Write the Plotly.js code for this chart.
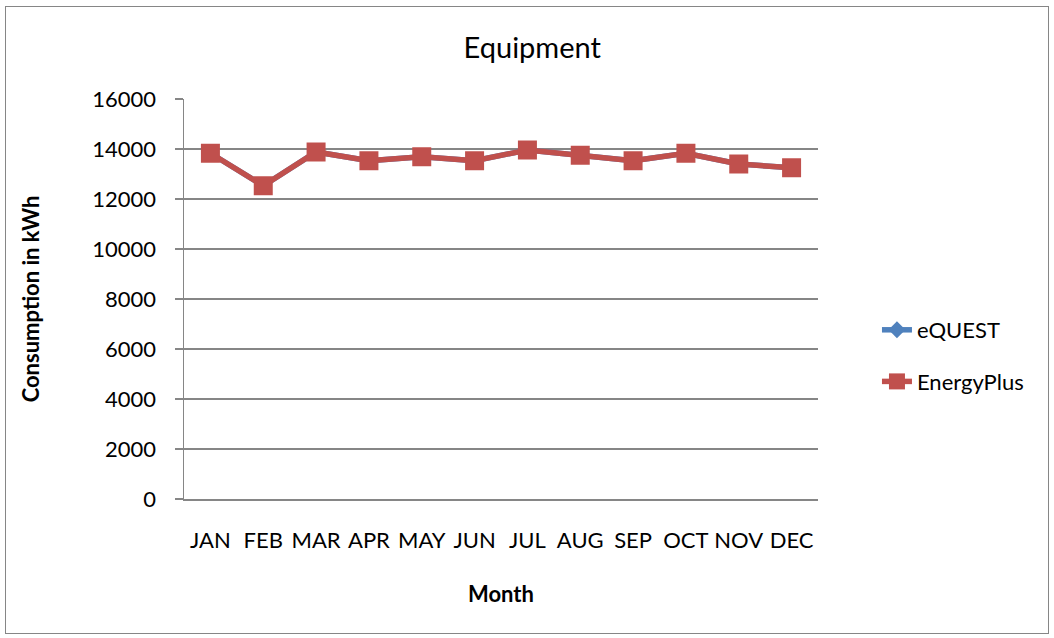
<!DOCTYPE html>
<html><head><meta charset="utf-8">
<script src="https://cdn.plot.ly/plotly-3.0.1.min.js"></script>
<style>
html,body{margin:0;padding:0;background:#fff;}
#chart{width:1054px;height:638px;position:relative;}
#frame{position:absolute;left:5px;top:6px;width:1042px;height:626px;border:1px solid #868686;pointer-events:none;}
</style></head>
<body>
<div id="chart"></div>
<div id="frame"></div>
<script>
const months = ["JAN","FEB","MAR","APR","MAY","JUN","JUL","AUG","SEP","OCT","NOV","DEC"];
const equest = [13830,12530,13880,13530,13690,13530,13960,13750,13530,13830,13400,13250];
const energyplus = [13830,12530,13880,13530,13690,13530,13960,13750,13530,13830,13400,13250];
const yTicks = [0,2000,4000,6000,8000,10000,12000,14000,16000];

const font = "Lato, 'Open Sans', sans-serif";
const traces = [
  {x: months, y: equest, name: "eQUEST", legendgroup: "a", type: "scatter", mode: "lines+markers",
   line: {color: "#4F81BD", width: 5.5}, marker: {symbol: "diamond", size: 13, color: "#4F81BD"}},
  {x: months, y: energyplus, name: "EnergyPlus", legendgroup: "b", type: "scatter", mode: "lines+markers",
   line: {color: "#C0504D", width: 5.5}, marker: {symbol: "square", size: 19, color: "#C0504D"}}
];
const layout = {
  width: 1054, height: 638,
  margin: {l: 184, r: 236, t: 99, b: 139},
  paper_bgcolor: "#fff", plot_bgcolor: "#fff",
  font: {family: font, size: 22, color: "#000"},
  title: {text: "Equipment", font: {family: font, size: 29, color: "#000"}, x: 0.505, xanchor: "center", y: 0.925, yanchor: "middle"},
  showlegend: true,
  legend: {x: 1.093, y: 0.3575, xanchor: "left", yanchor: "middle", font: {family: font, size: 22}, tracegroupgap: 20, itemwidth: 30, bgcolor: "rgba(0,0,0,0)"},
  xaxis: {
    type: "category", categoryorder: "array", categoryarray: months,
    showgrid: false, zeroline: false, showline: true, linecolor: "#868686", linewidth: 1.5,
    ticks: "outside", ticklen: 21, tickcolor: "rgba(0,0,0,0)",
    tickfont: {family: font, size: 22},
    title: {text: "<b>Month</b>", font: {family: font, size: 22}, standoff: 34},
    range: [-0.5, 11.5], fixedrange: true
  },
  yaxis: {
    range: [0, 16000], tickvals: yTicks, ticktext: yTicks.map(String),
    showgrid: true, gridcolor: "#868686", gridwidth: 1.5, zeroline: false,
    showline: true, linecolor: "#868686", linewidth: 1.5,
    ticks: "outside", ticklen: 8, tickcolor: "#868686", tickwidth: 1.5,
    ticklabelstandoff: 14,
    tickfont: {family: font, size: 22},
    title: {text: "<b>Consumption in kWh</b>", font: {family: font, size: 22}, standoff: 46}
  }
};
Plotly.newPlot("chart", traces, layout, {displayModeBar: false, staticPlot: true});
</script>
</body></html>
